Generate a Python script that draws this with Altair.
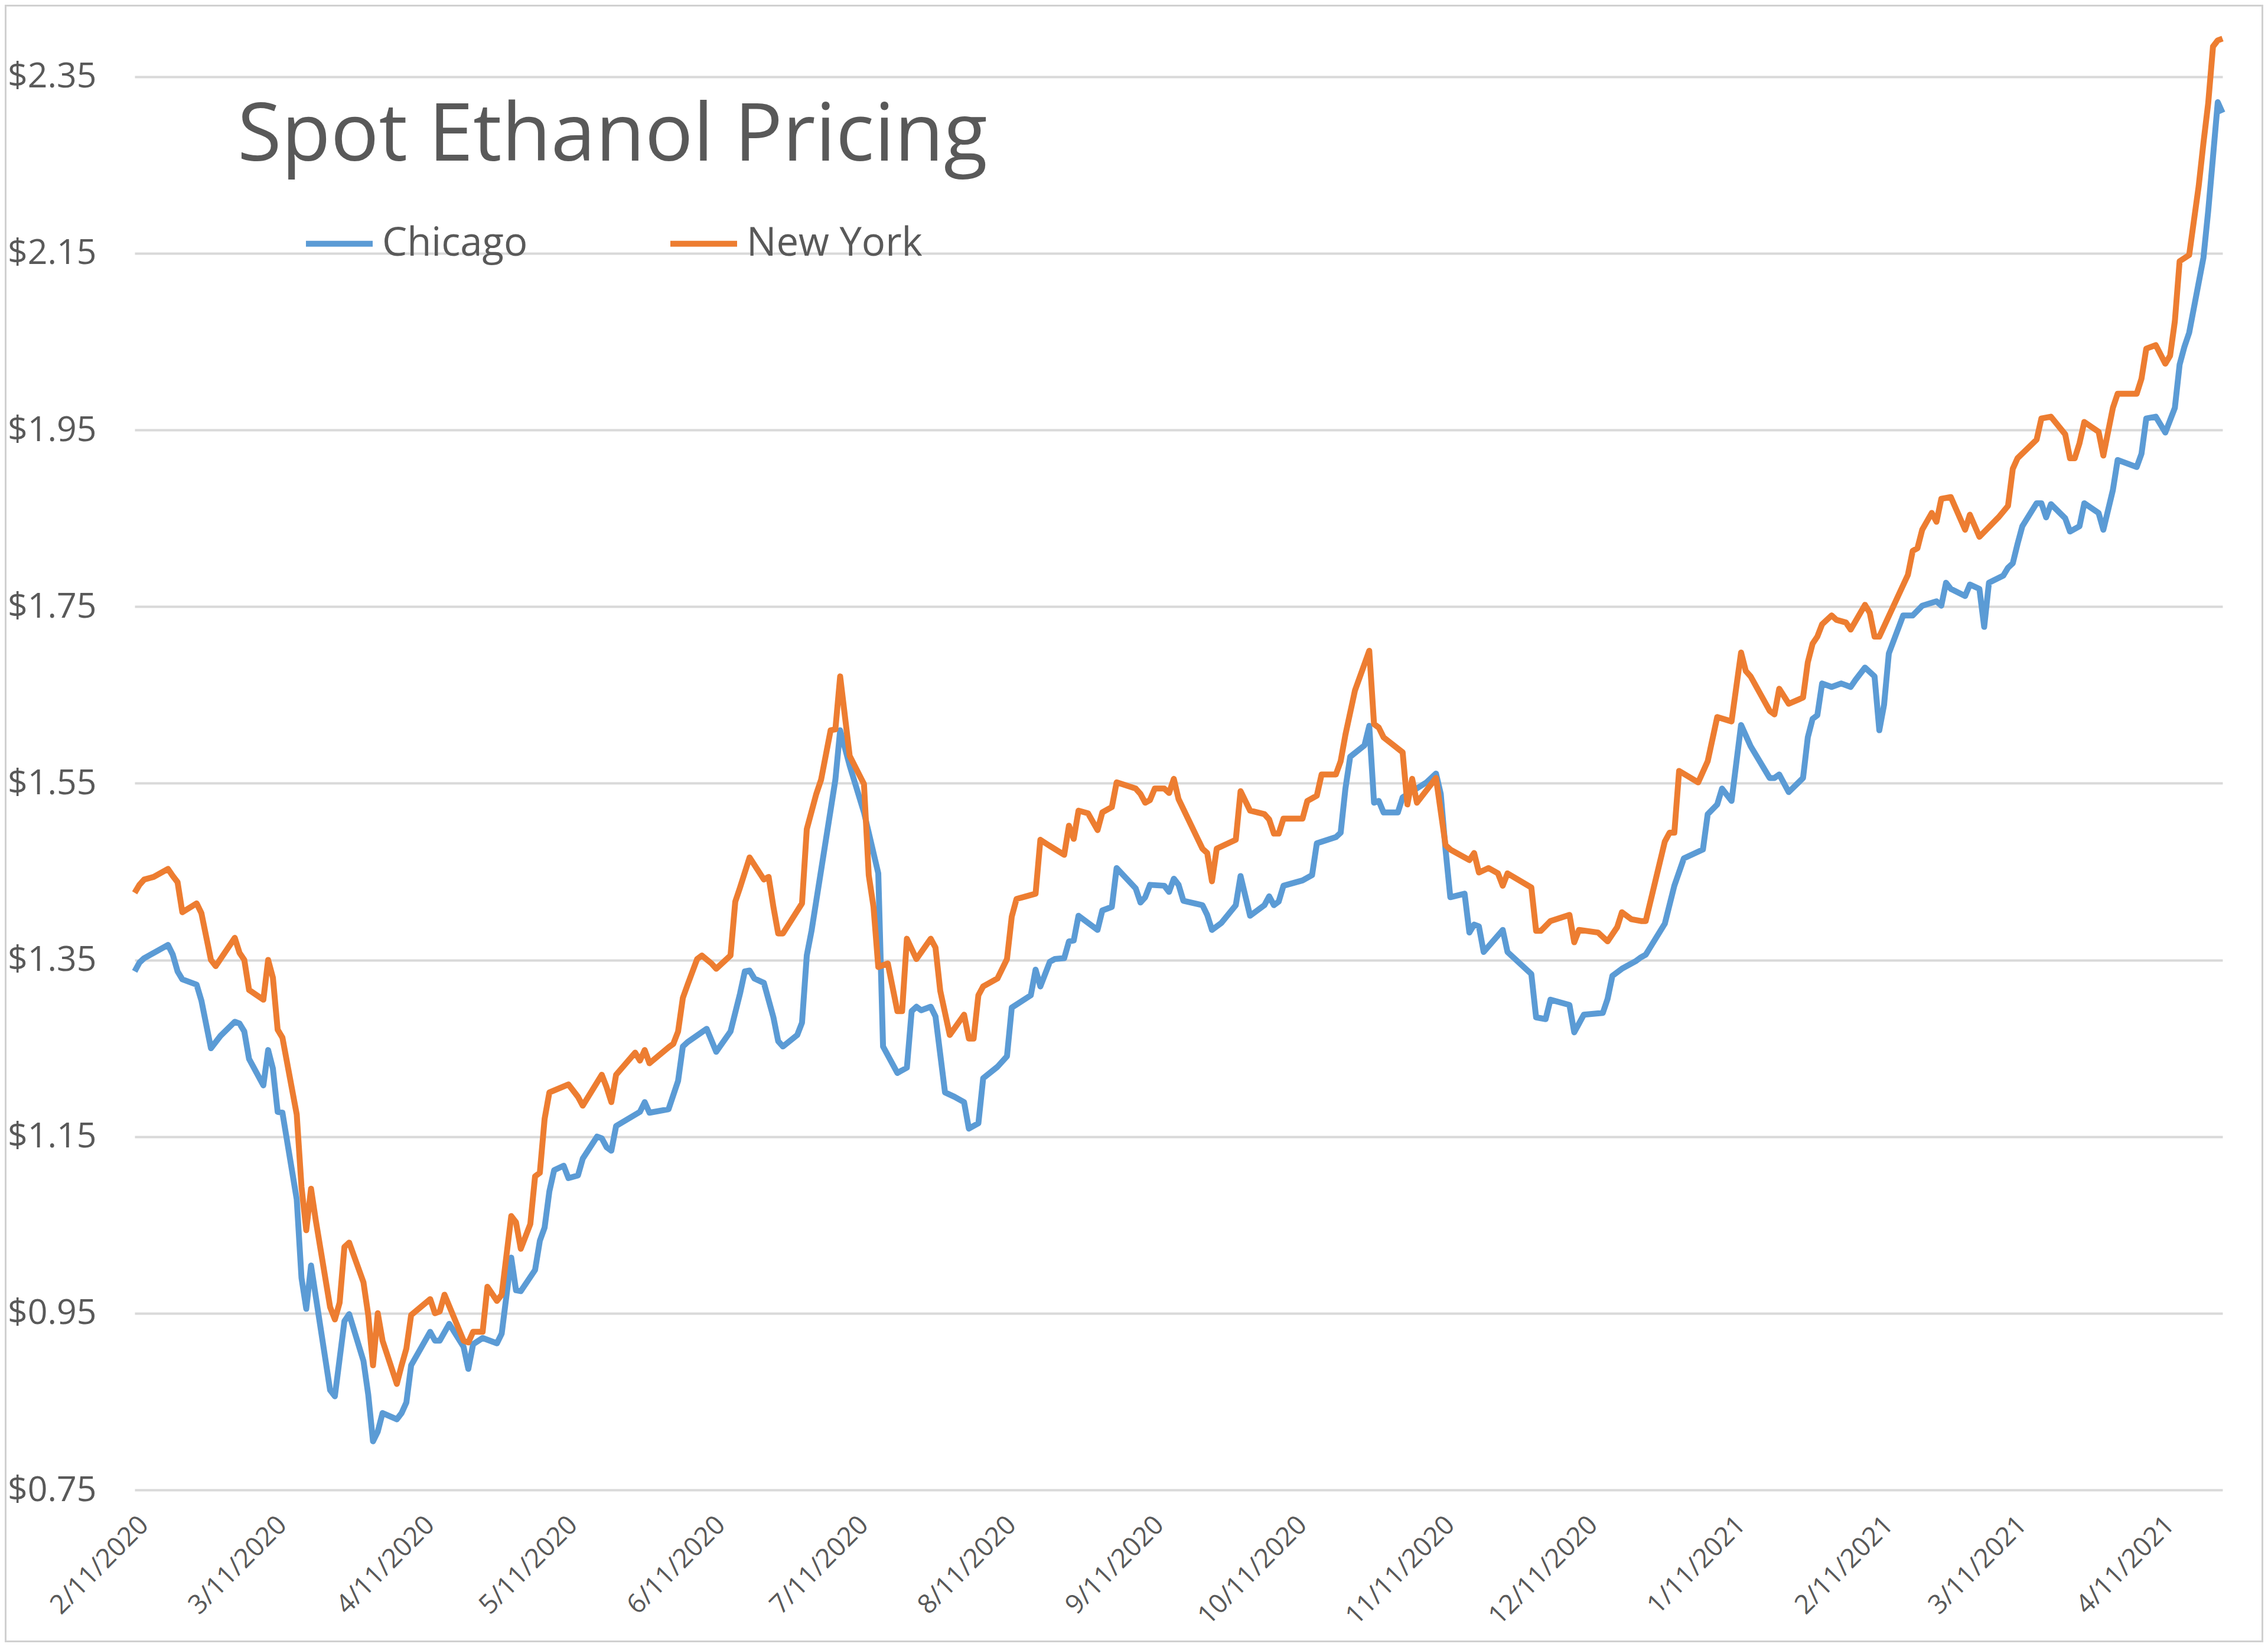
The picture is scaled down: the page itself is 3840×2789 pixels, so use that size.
import altair as alt
import pandas as pd

BASE_DATE = "2020-02-11"

# Chicago spot ethanol: days since 2/11/2020, $/gal
chi_days = [0, 1, 2, 4, 7, 8, 9, 10, 13, 14, 16, 18, 21, 22, 23, 24, 27, 28, 29, 30, 31, 34, 35, 36, 37,
            41, 42, 44, 45, 48, 49, 50, 51, 52, 55, 56, 57, 58, 62, 63, 64, 66, 69, 70, 71, 73, 76, 77,
            79, 80, 81, 84, 85, 86, 87, 88, 90, 91, 93, 94, 97, 98, 99, 100, 101, 106, 107, 108, 112,
            114, 115, 116, 120, 122, 125, 127, 128, 129, 130, 132, 134, 135, 136, 139, 140, 141, 142,
            147, 148, 150, 153, 156, 157, 160, 162, 163, 164, 165, 167, 168, 170, 172, 174, 175, 177,
            178, 181, 183, 184, 188, 189, 190, 192, 193, 195, 196, 197, 198, 200, 202, 203, 205, 206,
            210, 211, 212, 213, 216, 217, 218, 219, 220, 224, 225, 226, 228, 231, 232, 234, 237, 238,
            239, 240, 241, 245, 247, 248, 252, 253, 254, 255, 258, 259, 260, 261, 262, 265, 266, 271,
            273, 274, 275, 276, 279, 280, 281, 282, 283, 287, 288, 293, 294, 296, 297, 301, 302, 304,
            308, 309, 310, 312, 315, 316, 317, 321, 323, 325, 329, 330, 332, 333, 335, 337, 339, 343,
            344, 345, 347, 350, 351, 352, 353, 354, 356, 358, 360, 361, 363, 365, 366, 367, 368, 371,
            373, 375, 378, 379, 380, 381, 384, 385, 387, 388, 389, 392, 393, 394, 395, 396, 399, 400,
            401, 402, 405, 406, 408, 409, 412, 413, 415, 416, 420, 421, 422, 424, 426, 428, 429, 430,
            431, 434, 435, 436, 437, 438]
chi_price = [1.337, 1.347, 1.352, 1.358, 1.367, 1.356, 1.337, 1.328, 1.322, 1.304, 1.250, 1.264, 1.280,
             1.278, 1.269, 1.238, 1.208, 1.248, 1.227, 1.178, 1.177, 1.079, 0.990, 0.955, 1.004,
             0.863, 0.856, 0.941, 0.949, 0.896, 0.858, 0.805, 0.816, 0.837, 0.830, 0.837, 0.849, 0.891,
             0.929, 0.919, 0.919, 0.938, 0.912, 0.887, 0.915, 0.922, 0.916, 0.927,
             1.013, 0.976, 0.975, 0.999, 1.032, 1.047, 1.088, 1.112, 1.117, 1.103, 1.106, 1.125, 1.150,
             1.148, 1.138, 1.134, 1.162, 1.178, 1.189, 1.177, 1.181,
             1.213, 1.252, 1.257, 1.272, 1.246, 1.269, 1.312, 1.337, 1.338, 1.329, 1.324, 1.285, 1.258,
             1.252, 1.265, 1.279, 1.355, 1.383,
             1.554, 1.610, 1.570, 1.517, 1.448, 1.252, 1.222, 1.228, 1.292, 1.297, 1.293, 1.297, 1.286,
             1.200, 1.195, 1.189, 1.159, 1.165,
             1.216, 1.229, 1.241, 1.296, 1.310, 1.339, 1.320, 1.348, 1.351, 1.352, 1.371, 1.372, 1.400,
             1.392, 1.384, 1.406, 1.410, 1.454,
             1.431, 1.415, 1.421, 1.435, 1.434, 1.427, 1.442, 1.435, 1.417, 1.412, 1.401, 1.384, 1.392,
             1.412, 1.445, 1.400, 1.412, 1.422,
             1.412, 1.416, 1.434, 1.440, 1.446, 1.482, 1.489, 1.494, 1.544, 1.580, 1.593, 1.615, 1.528,
             1.530, 1.517, 1.517, 1.534, 1.551,
             1.561, 1.538, 1.475, 1.421, 1.425, 1.381, 1.390, 1.388, 1.359, 1.384, 1.359, 1.334, 1.285,
             1.283, 1.305, 1.299, 1.268, 1.288,
             1.290, 1.306, 1.332, 1.340, 1.349, 1.353, 1.356, 1.391, 1.434, 1.465, 1.475, 1.515, 1.526,
             1.544, 1.530, 1.616, 1.592, 1.556,
             1.556, 1.560, 1.540, 1.556, 1.602, 1.623, 1.627, 1.663, 1.659, 1.663, 1.659, 1.667, 1.681,
             1.671, 1.610, 1.639, 1.697, 1.740,
             1.740, 1.751, 1.756, 1.751, 1.777, 1.770, 1.762, 1.775, 1.770, 1.727, 1.777, 1.785, 1.794,
             1.799, 1.821, 1.841, 1.867, 1.867,
             1.851, 1.866, 1.850, 1.835, 1.841, 1.867, 1.856, 1.837, 1.882, 1.916, 1.908, 1.923, 1.963,
             1.965, 1.947, 1.975, 2.024, 2.044,
             2.060, 2.145, 2.198, 2.259, 2.321, 2.309]

# New York spot ethanol: days since 2/11/2020, $/gal
ny_days = [0, 1, 2, 4, 7, 8, 9, 10, 13, 14, 16, 17, 21, 22, 23, 24, 27, 28, 29, 30, 31, 34, 35, 36, 37,
           38, 41, 42, 43, 44, 45, 48, 49, 50, 51, 52, 55, 56, 57, 58, 62, 63, 64, 65, 69, 70, 71, 73,
           74, 76, 77, 79, 80, 81, 83, 84, 85, 86, 87, 91, 93, 94, 98, 99, 100, 101, 105, 106, 107,
           108, 112, 113, 114, 115, 116, 118, 119, 121, 122, 125, 126, 127, 129, 132, 133, 134, 135,
           136, 140, 141, 143, 144, 146, 147, 148, 150, 153, 154, 155, 156, 158, 160, 161, 162, 164,
           167, 168, 169, 171, 174, 175, 176, 177, 178, 181, 183, 184, 185, 189, 190, 192, 195, 196,
           197, 198, 200, 202, 203, 205, 206, 210, 211, 212, 213, 214, 216, 217, 218, 219, 224, 225,
           226, 227, 231, 232, 234, 237, 238, 239, 240, 241, 245, 246, 248, 249, 252, 253, 254, 256,
           259, 260, 261, 262, 266, 267, 268, 269, 273, 275, 276, 280, 281, 282, 284, 286, 287, 288,
           293, 294, 295, 297, 301, 302, 303, 307, 309, 311, 312, 314, 316, 317, 321, 322, 323, 324,
           328, 330, 332, 335, 337, 338, 339, 343, 344, 345, 347, 350, 351, 352, 353, 354, 356, 357,
           359, 360, 363, 364, 365, 366, 372, 373, 374, 375, 377, 378, 379, 381, 384, 385, 387, 389,
           391, 393, 394, 395, 399, 400, 402, 405, 406, 407, 408, 409, 412, 413, 415, 416, 420, 421,
           422, 424, 426, 427, 428, 429, 431, 433, 434, 435, 436, 437, 438]
ny_price = [1.426, 1.435, 1.441, 1.444, 1.453, 1.445, 1.438, 1.404, 1.414, 1.403, 1.350, 1.343, 1.375,
            1.358, 1.350, 1.316, 1.305, 1.350, 1.330, 1.271, 1.262, 1.175, 1.093, 1.044, 1.091,
            1.055, 0.957, 0.943, 0.962, 1.025, 1.030, 0.985, 0.948, 0.891, 0.950, 0.919, 0.870, 0.891,
            0.910, 0.948, 0.966, 0.950, 0.952, 0.971, 0.919, 0.917, 0.929, 0.929,
            0.980, 0.964, 0.971, 1.060, 1.053, 1.023, 1.051, 1.105, 1.109, 1.170, 1.200, 1.209, 1.195,
            1.185, 1.220, 1.206, 1.189, 1.220, 1.245, 1.236, 1.248,
            1.233, 1.251, 1.255, 1.269, 1.307, 1.322, 1.351, 1.355, 1.346, 1.340, 1.355, 1.416, 1.432,
            1.466, 1.441, 1.444, 1.410, 1.380,
            1.380, 1.414, 1.498, 1.538, 1.554, 1.610, 1.611, 1.671, 1.581, 1.549, 1.446, 1.410, 1.342,
            1.346, 1.292, 1.292, 1.374, 1.351,
            1.374, 1.364, 1.315, 1.265, 1.288, 1.261, 1.261, 1.310, 1.320, 1.329, 1.351, 1.399, 1.419,
            1.425, 1.486, 1.479, 1.469, 1.502,
            1.487, 1.519, 1.516, 1.497, 1.517, 1.523, 1.551, 1.544, 1.538, 1.528, 1.531, 1.544, 1.544,
            1.539, 1.555, 1.532, 1.476, 1.471,
            1.439, 1.476, 1.486, 1.541, 1.519, 1.515, 1.509, 1.493, 1.493, 1.510, 1.510, 1.530, 1.536,
            1.560, 1.560, 1.575, 1.605, 1.655,
            1.700, 1.617, 1.613, 1.602, 1.585, 1.526, 1.555, 1.528, 1.556, 1.480, 1.475, 1.463, 1.471,
            1.449, 1.454, 1.448, 1.434, 1.448,
            1.432, 1.383, 1.383, 1.394, 1.401, 1.370, 1.384, 1.381, 1.371, 1.387, 1.404, 1.396, 1.394,
            1.394, 1.484, 1.494, 1.494, 1.564,
            1.551, 1.575, 1.625, 1.620, 1.698, 1.677, 1.671, 1.632, 1.628, 1.657, 1.640, 1.647, 1.687,
            1.708, 1.716, 1.730, 1.740, 1.735,
            1.732, 1.724, 1.752, 1.743, 1.716, 1.716, 1.786, 1.813, 1.816, 1.837, 1.856, 1.846, 1.872,
            1.874, 1.837, 1.854, 1.829, 1.840,
            1.851, 1.864, 1.906, 1.918, 1.939, 1.963, 1.965, 1.945, 1.918, 1.918, 1.935, 1.959, 1.948,
            1.921, 1.975, 1.991, 1.991, 2.008,
            2.042, 2.046, 2.025, 2.034, 2.073, 2.141, 2.148, 2.226, 2.275, 2.320, 2.384, 2.391, 2.393]

series_names = ["Chicago", "New York"]
series_colors = ["#5B9BD5", "#ED7D31"]
x_tick_months = [(2020, 2), (2020, 3), (2020, 4), (2020, 5), (2020, 6), (2020, 7), (2020, 8),
                 (2020, 9), (2020, 10), (2020, 11), (2020, 12), (2021, 1), (2021, 2), (2021, 3),
                 (2021, 4)]
y_ticks = [0.75, 0.95, 1.15, 1.35, 1.55, 1.75, 1.95, 2.15, 2.35]
chart_title = "Spot Ethanol Pricing"

GRAY = "#595959"
FONT = "Open Sans"
W, H = 3535, 2498
PAD = {"left": 220, "top": 17, "right": 69, "bottom": 258}


def build(name, days, vals):
    dates = pd.Timestamp(BASE_DATE) + pd.to_timedelta(days, unit="D")
    return pd.DataFrame({"date": dates.strftime("%Y-%m-%dT00:00:00"), "price": vals, "city": name})


df = pd.concat([build("Chicago", chi_days, chi_price), build("New York", ny_days, ny_price)],
               ignore_index=True)

x_enc = alt.X(
    "date:T",
    scale=alt.Scale(domain=[alt.DateTime(year=2020, month=2, date=11),
                            alt.DateTime(year=2021, month=4, date=24)]),
    axis=alt.Axis(
        values=[alt.DateTime(year=y, month=m, date=11) for y, m in x_tick_months],
        format="%-m/%-d/%Y", labelAngle=-45, labelFontSize=45, labelFont=FONT,
        labelColor=GRAY, labelPadding=36, ticks=False, domain=False, grid=False,
        labelFlush=False, labelOverlap=False, labelLimit=1000, title=None,
    ),
)
y_enc = alt.Y(
    "price:Q",
    scale=alt.Scale(domain=[0.75, 2.42], nice=False, zero=False),
    axis=alt.Axis(
        values=y_ticks, format="$.2f", labelFontSize=59, labelFont=FONT, labelColor=GRAY,
        labelPadding=65, ticks=False, domain=False, gridColor="#D9D9D9", gridWidth=4, title=None,
    ),
)

lines = alt.Chart(df).mark_line(strokeWidth=10, strokeJoin="round").encode(
    x=x_enc,
    y=y_enc,
    color=alt.Color(
        "city:N",
        scale=alt.Scale(domain=series_names, range=series_colors),
        legend=alt.Legend(
            orient="none", legendX=285, legendY=326, direction="horizontal", title=None,
            symbolType="stroke", symbolSize=12769, symbolStrokeWidth=10, labelFontSize=67,
            labelFont=FONT, labelColor=GRAY, labelOffset=11, columnPadding=221, padding=0,
            labelLimit=1000,
        ),
    ),
    order=alt.Order("date:T"),
)

title = alt.Chart(pd.DataFrame({"t": [chart_title]})).mark_text(
    align="left", baseline="alphabetic", fontSize=136, font=FONT, color=GRAY
).encode(text="t:N", x=alt.value(174), y=alt.value(247))

frame = alt.Chart(pd.DataFrame({"f": [0]})).mark_rect(
    fillOpacity=0, stroke="#D0D0D0", strokeWidth=6
).encode(
    x=alt.value(-PAD["left"]), x2=alt.value(W + PAD["right"]),
    y=alt.value(-PAD["top"]), y2=alt.value(H + PAD["bottom"]),
)

chart = alt.layer(lines, title, frame).properties(
    width=W, height=H, autosize=alt.AutoSizeParams(type="none"), padding=PAD,
    background="white",
).configure_view(stroke=None)

chart.save("out.html", embed_options={"renderer": "svg", "actions": False})
